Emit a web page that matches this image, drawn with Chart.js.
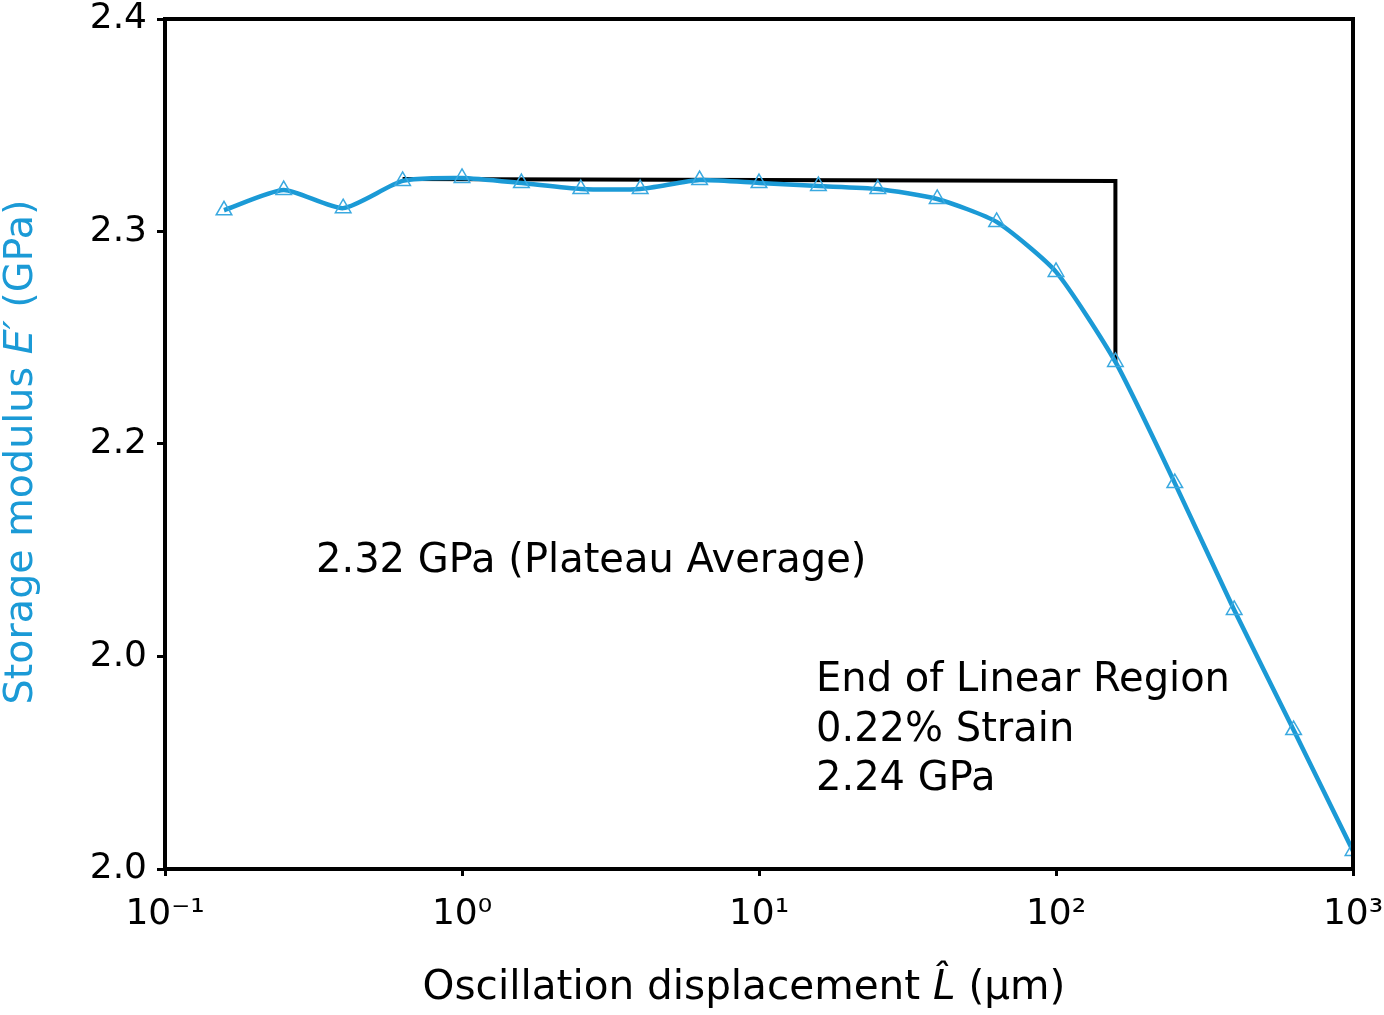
<!DOCTYPE html>
<html>
<head>
<meta charset="utf-8">
<script src="https://cdn.jsdelivr.net/npm/chart.js@4"></script>
<style>
  html, body { margin: 0; padding: 0; background: #fff; }
  #wrap { width: 1384px; height: 1015px; position: relative; }
</style>
</head>
<body>
<div id="wrap"><canvas id="chart"></canvas></div>
<script>
// displacement (µm) and storage modulus (GPa)
const displacement = [0.158, 0.251, 0.398, 0.631, 1.0, 1.585, 2.512, 3.981, 6.31, 10.0,
  15.85, 25.12, 39.81, 63.1, 100, 158.5, 251.2, 398.1, 631, 1000];
const modulus = [2.310, 2.3195, 2.311, 2.3238, 2.3252, 2.3228, 2.3200, 2.3200, 2.3242, 2.3228,
  2.3214, 2.3200, 2.3153, 2.3045, 2.2810, 2.2386, 2.1816, 2.1219, 2.0654, 2.0085];

// plateau / end-of-linear-region marker line
const markerX = [0.631, 158.5, 158.5];
const markerY = [2.3247, 2.3238, 2.2386];

const xTicks = [0.1, 1, 10, 100, 1000];
const xTickLabels = ["10⁻¹", "10⁰", "10¹", "10²", "10³"];
const yTicks = [2.0, 2.1, 2.2, 2.3, 2.4];
const yTickLabels = ["2.0", "2.0", "2.2", "2.3", "2.4"];

const BLUE = "#1b9ad6";
const FONT = "'DejaVu Sans', sans-serif";

// text that needs mixed italic, drawn on the canvas
function measureParts(ctx, parts, size) {
  let w = 0;
  parts.forEach((p) => {
    ctx.font = (p.italic ? "italic " : "") + size + "px " + FONT;
    w += ctx.measureText(p.t).width;
  });
  return w;
}

function drawRun(ctx, parts, size, x, y, targetW) {
  let w = measureParts(ctx, parts, size);
  const s = targetW ? size * targetW / w : size;
  w = measureParts(ctx, parts, s);
  let cx = x - w / 2;
  parts.forEach((p) => {
    ctx.font = (p.italic ? "italic " : "") + s + "px " + FONT;
    ctx.fillText(p.t, cx, y);
    cx += ctx.measureText(p.t).width;
  });
}

const extras = {
  id: "extras",
  afterDraw(chart) {
    const { ctx, chartArea: a } = chart;
    ctx.save();
    // frame
    ctx.strokeStyle = "#000";
    ctx.lineWidth = 4;
    ctx.strokeRect(a.left, a.top, a.right - a.left, a.bottom - a.top);

    ctx.textBaseline = "middle";
    // x title
    ctx.fillStyle = "#000";
    drawRun(ctx, [
      { t: "Oscillation displacement " },
      { t: "L̂", italic: true },
      { t: " (µm)" },
    ], 38, 744, 988, 643);

    // y title
    ctx.save();
    ctx.translate(22, 452);
    ctx.rotate(-Math.PI / 2);
    ctx.fillStyle = BLUE;
    drawRun(ctx, [
      { t: "Storage modulus " },
      { t: "E′", italic: true },
      { t: " (GPa)" },
    ], 38, 0, 0, 505);
    ctx.restore();

    // annotations
    ctx.fillStyle = "#000";
    ctx.textAlign = "left";
    ctx.font = "40px " + FONT;
    ctx.fillText("2.32 GPa (Plateau Average)", 316, 562);
    ctx.fillText("End of Linear Region", 816, 681);
    ctx.fillText("0.22% Strain", 816, 731);
    ctx.fillText("2.24 GPa", 816, 780);
    ctx.restore();
  },
};

new Chart(document.getElementById("chart"), {
  type: "line",
  data: {
    datasets: [
      {
        label: "E'",
        data: displacement.map((x, i) => ({ x: x, y: modulus[i] })),
        borderColor: BLUE,
        borderWidth: 4.5,
        tension: 0.2,
        pointStyle: "triangle",
        pointRadius: 9,
        pointBorderWidth: 1.5,
        pointBorderColor: "#3aa9e0",
        pointBackgroundColor: "rgba(0,0,0,0)",
        order: 1,
      },
      {
        label: "linear region",
        data: markerX.map((x, i) => ({ x: x, y: markerY[i] })),
        borderColor: "#000",
        borderWidth: 4,
        pointRadius: 0,
        tension: 0,
        order: 2,
      },
    ],
  },
  options: {
    responsive: true,
    maintainAspectRatio: false,
    animation: false,
    layout: { padding: { top: 19, right: 31, left: 0, bottom: 0 } },
    plugins: { legend: { display: false }, tooltip: { enabled: false } },
    scales: {
      x: {
        type: "logarithmic",
        min: 0.1,
        max: 1000,
        afterBuildTicks: (s) => { s.ticks = xTicks.map((v) => ({ value: v })); },
        afterFit: (s) => { s.height = 146; s.paddingLeft = 0; s.paddingRight = 0; },
        ticks: {
          autoSkip: false,
          maxRotation: 0,
          padding: 17,
          color: "#000",
          font: { family: FONT, size: 36 },
          callback: (v, i) => xTickLabels[i],
        },
        grid: { drawOnChartArea: false, drawTicks: true, tickLength: 7, tickWidth: 3, tickColor: "#000" },
        border: { display: true, color: "#000", width: 4 },
      },
      y: {
        type: "linear",
        min: 2.0,
        max: 2.4,
        afterBuildTicks: (s) => { s.ticks = yTicks.map((v) => ({ value: v })); },
        afterFit: (s) => { s.width = 165; s.paddingTop = 0; s.paddingBottom = 0; },
        ticks: {
          padding: 10,
          color: "#000",
          font: { family: FONT, size: 36 },
          callback: (v, i) => yTickLabels[i],
        },
        grid: { drawOnChartArea: false, drawTicks: true, tickLength: 8, tickWidth: 3, tickColor: "#000" },
        border: { display: true, color: "#000", width: 4 },
      },
    },
  },
  plugins: [extras],
});
</script>
</body>
</html>
